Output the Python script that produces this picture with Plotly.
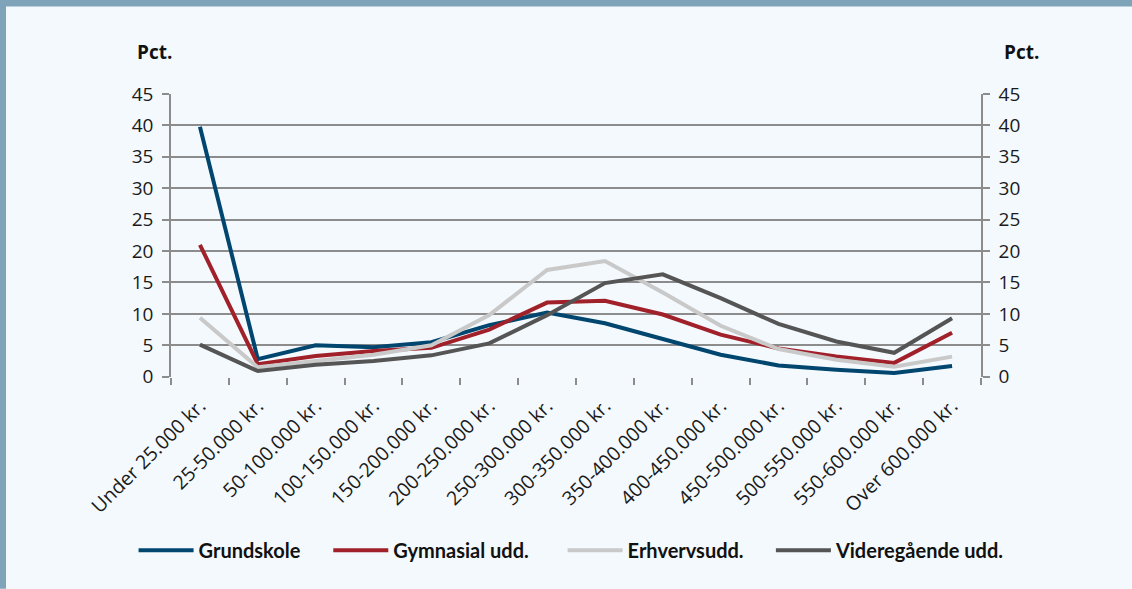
import plotly.graph_objects as go

categories = ["Under 25.000 kr.", "25-50.000 kr.", "50-100.000 kr.", "100-150.000 kr.",
              "150-200.000 kr.", "200-250.000 kr.", "250-300.000 kr.", "300-350.000 kr.",
              "350-400.000 kr.", "400-450.000 kr.", "450-500.000 kr.", "500-550.000 kr.",
              "550-600.000 kr.", "Over 600.000 kr."]

grundskole = [39.8, 2.8, 5.0, 4.7, 5.5, 8.2, 10.2, 8.5, 6.0, 3.5, 1.8, 1.1, 0.6, 1.7]
gymnasial = [21.0, 2.0, 3.3, 4.1, 4.6, 7.5, 11.8, 12.1, 9.9, 6.7, 4.5, 3.2, 2.2, 7.0]
erhvervsudd = [9.4, 1.5, 2.5, 3.5, 5.0, 9.8, 17.0, 18.4, 13.4, 8.1, 4.4, 2.7, 1.6, 3.2]
videregaaende = [5.1, 0.9, 1.9, 2.5, 3.4, 5.3, 9.8, 14.9, 16.3, 12.5, 8.4, 5.6, 3.8, 9.3]

series_names = ["Grundskole", "Gymnasial udd.", "Erhvervsudd.", "Videregående udd."]
series_values = [grundskole, gymnasial, erhvervsudd, videregaaende]
series_colors = ["#00466f", "#a1212a", "#c9c9c9", "#555555"]

y_ticks = [0, 5, 10, 15, 20, 25, 30, 35, 40, 45]

BG = "#f4f9fd"
GRID = "#8c8c8c"
FRAME = "#7fa3b9"

legend_ids = ["legend", "legend2", "legend3", "legend4"]
legend_x = [0.118, 0.290, 0.497, 0.681]

fig = go.Figure()
for name, vals, col, lg in zip(series_names, series_values, series_colors, legend_ids):
    fig.add_trace(go.Scatter(x=categories, y=vals, name=name, mode="lines",
                             line=dict(color=col, width=4), legend=lg))

# invisible trace to activate the right axis
fig.add_trace(go.Scatter(x=categories, y=grundskole, yaxis="y2", mode="lines",
                         line=dict(width=0), showlegend=False, hoverinfo="skip",
                         opacity=0))

tick_font = dict(family="Open Sans", size=19, color="#1a1a1a")

fig.update_layout(
    width=1132, height=589,
    paper_bgcolor=BG, plot_bgcolor=BG,
    margin=dict(l=171, r=151, t=94, b=211),
    xaxis=dict(
        type="category", tickangle=-45, tickson="boundaries",
        ticks="outside", ticklen=7, tickcolor=GRID, tickwidth=1.5,
        showgrid=False, showline=False, zeroline=False,
        tickfont=dict(family="Open Sans", size=19.5, color="#1a1a1a"),
        ticklabelstandoff=13,
        range=[-0.5, 13.5],
    ),
    yaxis=dict(
        range=[0, 45], tickvals=y_ticks, showgrid=True, gridcolor=GRID, gridwidth=1.5,
        showline=True, linecolor=GRID, linewidth=1.5,
        ticks="outside", ticklen=7, tickcolor=GRID, tickwidth=1.5,
        zeroline=False, tickfont=tick_font, fixedrange=True,
        ticklabelstandoff=5,
    ),
    yaxis2=dict(
        range=[0, 45], tickvals=y_ticks, overlaying="y", side="right",
        showgrid=False, showline=True, linecolor=GRID, linewidth=1.5,
        ticks="outside", ticklen=7, tickcolor=GRID, tickwidth=1.5,
        zeroline=False, tickfont=tick_font, ticklabelstandoff=5,
    ),
    showlegend=True,
)

for lg, lx in zip(legend_ids, legend_x):
    fig.update_layout({lg: dict(
        orientation="h", xref="container", yref="container",
        x=lx, xanchor="left", y=0.066, yanchor="middle",
        font=dict(family="Lato", size=20, color="#111111", weight="bold"),
        bgcolor="rgba(0,0,0,0)", itemwidth=55,
    )})

# "Pct." labels
for xp in [-0.02, 1.05]:
    fig.add_annotation(text="Pct.", xref="paper", yref="paper", x=xp, y=1.148,
                       showarrow=False, xanchor="center", yanchor="middle",
                       font=dict(family="Open Sans", size=19, color="#111111", weight="bold"))

# frame: top bar and left border
fig.add_shape(type="rect", xref="paper", yref="paper",
              x0=-0.212, x1=1.187, y0=1.3099, y1=1.34,
              fillcolor=FRAME, line=dict(width=0), layer="above")
fig.add_shape(type="rect", xref="paper", yref="paper",
              x0=-0.212, x1=-0.2037, y0=-0.75, y1=1.34,
              fillcolor=FRAME, line=dict(width=0), layer="above")

fig.write_html("out.html", config={"displayModeBar": False},
               post_script="document.body.style.margin='0';document.body.style.background='%s';" % BG)
